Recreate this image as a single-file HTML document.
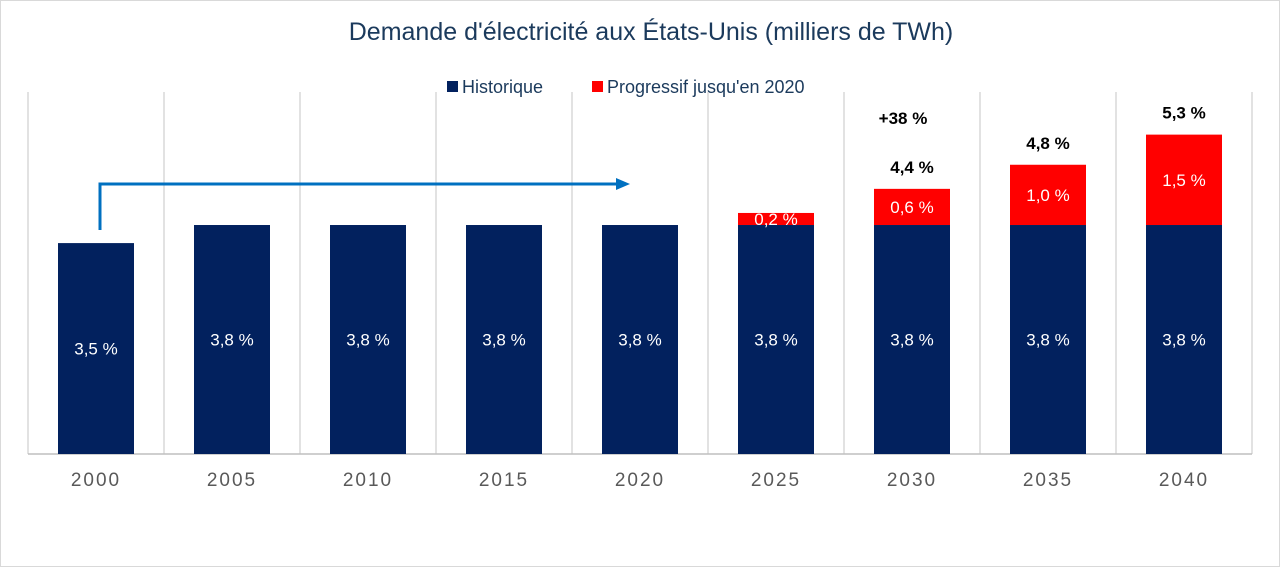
<!DOCTYPE html>
<html><head><meta charset="utf-8"><style>
body{margin:0;background:#fff;}
svg{display:block;font-family:"Liberation Sans",sans-serif;}
</style></head><body>
<svg id="chart" width="1280" height="567">
<rect x="0.5" y="0.5" width="1279" height="566" fill="#fff" stroke="#d9d9d9"/>
<text x="651" y="40" text-anchor="middle" font-size="25" fill="#1b3a5c">Demande d'électricité aux États-Unis (milliers de TWh)</text>
<g>
<rect x="447" y="81" width="11" height="11" fill="#02215e"/>
<text x="462" y="93" font-size="18" fill="#1b3a5c">Historique</text>
<rect x="592" y="81" width="11" height="11" fill="#ff0000"/>
<text x="607" y="93" font-size="18" fill="#1b3a5c">Progressif jusqu'en 2020</text>
</g>
<g id="grid"></g>
<g id="bars"></g>
<g id="labels"></g>
<g>
<polyline points="100,230 100,184 618,184" fill="none" stroke="#0070c0" stroke-width="3"/>
<polygon points="616,178 630,184 616,190" fill="#0070c0"/>
</g>
<text x="903" y="124" text-anchor="middle" font-size="17" font-weight="bold" fill="#000">+38 %</text>
</svg>
<script>
const categories=["2000","2005","2010","2015","2020","2025","2030","2035","2040"];
const historique=[3.5,3.8,3.8,3.8,3.8,3.8,3.8,3.8,3.8];
const progressif=[0,0,0,0,0,0.2,0.6,1.0,1.5];
const totals=[null,null,null,null,null,null,4.4,4.8,5.3];
const NS="http://www.w3.org/2000/svg";
const x0=28,cw=136,base=454,scale=60.26,bw=76;
const xc=i=>x0+cw*i+cw/2;
const y=v=>base-v*scale;
const fmt=v=>v.toFixed(1).replace('.',',')+' %';
function mk(tag,attrs,parent){const e=document.createElementNS(NS,tag);for(const k in attrs)e.setAttribute(k,attrs[k]);parent.appendChild(e);return e;}
const grid=document.getElementById('grid'),bars=document.getElementById('bars'),labels=document.getElementById('labels');
for(let i=0;i<=categories.length;i++){
 const l=mk('line',{x1:x0+cw*i,x2:x0+cw*i,y1:92,y2:base,stroke:'#d9d9d9','stroke-width':1.5},grid);
 
 
}
const ax=mk('line',{x1:x0,x2:x0+cw*categories.length,y1:base,y2:base,stroke:'#bfbfbf','stroke-width':1.5},grid);


categories.forEach((c,i)=>{
 const h=historique[i],p=progressif[i];
 const b=mk('rect',{x:xc(i)-bw/2,y:y(h),width:bw,height:base-y(h),fill:'#02215e'},bars);
 
 
 const t=mk('text',{x:xc(i),y:(y(h)+base)/2+6,'text-anchor':'middle','font-size':17,fill:'#fff'},labels);
 t.textContent=fmt(h);
 
 
 if(p>0){
  const r=mk('rect',{x:xc(i)-bw/2,y:y(h+p),width:bw,height:y(h)-y(h+p),fill:'#ff0000'},bars);
  
  
  const t2=mk('text',{x:xc(i),y:(y(h+p)+y(h))/2+6,'text-anchor':'middle','font-size':17,fill:'#fff'},labels);
  t2.textContent=fmt(p);
  
  
 }
 if(totals[i]!=null){
  const t3=mk('text',{x:xc(i),y:y(h+p)-16,'text-anchor':'middle','font-size':17,'font-weight':'bold',fill:'#000'},labels);
  t3.textContent=fmt(totals[i]);
  
  
 }
 const xl=mk('text',{x:xc(i),y:486,'text-anchor':'middle','font-size':19,fill:'#595959','letter-spacing':'2'},labels);
 xl.textContent=c;
 
 
});
</script>
</body></html>
